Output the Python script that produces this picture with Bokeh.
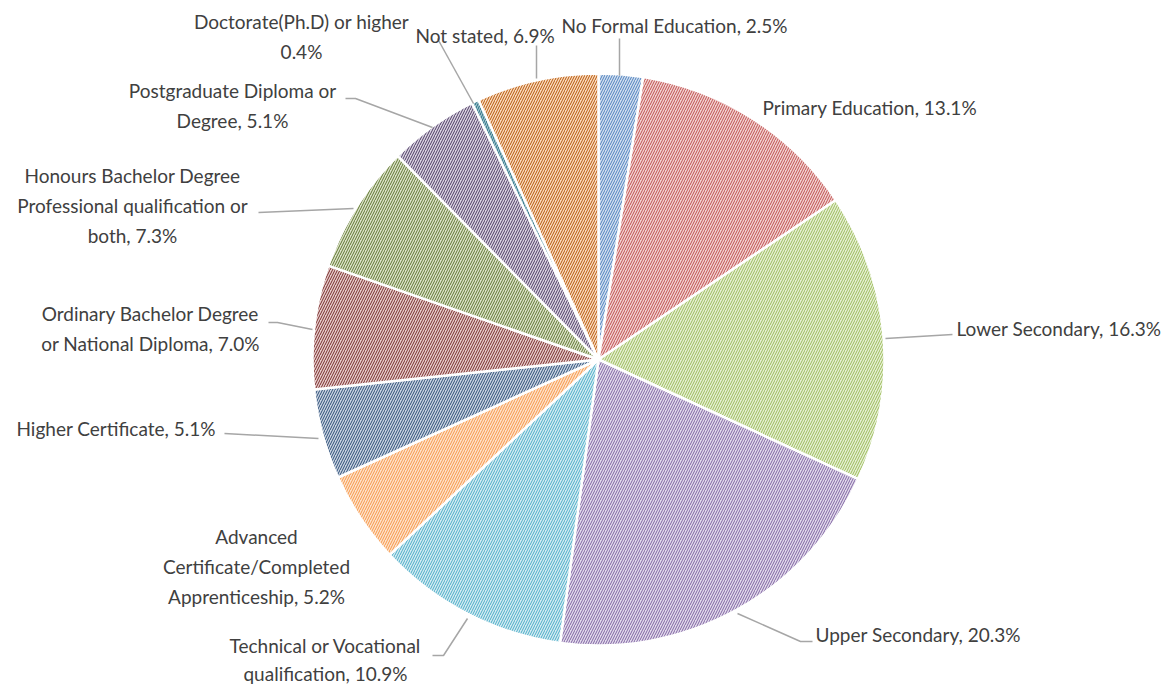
import math
from bokeh.plotting import figure
from bokeh.models import Range1d
from bokeh.core.properties import value
from bokeh.embed import file_html
from bokeh.resources import INLINE

# ---- data ----
categories = [
    "No Formal Education", "Primary Education", "Lower Secondary", "Upper Secondary",
    "Technical or Vocational qualification", "Advanced Certificate/Completed Apprenticeship",
    "Higher Certificate", "Ordinary Bachelor Degree or National Diploma",
    "Honours Bachelor Degree Professional qualification or both",
    "Postgraduate Diploma or Degree", "Doctorate(Ph.D) or higher", "Not stated",
]
percentages = [2.5, 13.1, 16.3, 20.3, 10.9, 5.2, 5.1, 7.0, 7.3, 5.1, 0.4, 6.9]
label_texts = [
    "No Formal Education, 2.5%", "Primary Education, 13.1%", "Lower Secondary, 16.3%",
    "Upper Secondary, 20.3%", "Technical or Vocational\nqualification, 10.9%",
    "Advanced\nCertificate/Completed\nApprenticeship, 5.2%", "Higher Certificate, 5.1%",
    "Ordinary Bachelor Degree\nor National Diploma, 7.0%",
    "Honours Bachelor Degree\nProfessional qualification or\nboth, 7.3%",
    "Postgraduate Diploma or\nDegree, 5.1%", "Doctorate(Ph.D) or higher\n0.4%",
    "Not stated, 6.9%",
]

# ---- styles ----
line_colors = ["#4F81BD", "#C0504D", "#9BBB59", "#8064A2", "#4BACC6", "#F79646",
               "#2C4D75", "#772C2A", "#5F7530", "#4D3B62", "#276A7C", "#B65708"]
fill_colors = ["#D3E0F0", "#F2D4D4", "#E7F0D6", "#E3DCEC", "#D5ECF3", "#FDE3CD",
               "#CBD5E3", "#E7CDCD", "#DDE4CB", "#DCD6E4", "#9CC4CF", "#FADCC2"]

W, H = 1171, 688
def X(px): return px
def Y(py): return H - py

p = figure(width=W, height=H, output_backend="svg", toolbar_location=None,
           x_range=Range1d(0, W), y_range=Range1d(0, H), min_border=0)
p.axis.visible = False
p.grid.visible = False
p.outline_line_color = None

cx, cy, r = X(598), Y(359), 286
total = sum(percentages)
cum = 0.0
starts, ends = [], []
for v in percentages:
    starts.append(math.pi / 2 - 2 * math.pi * cum / total)
    cum += v
    ends.append(math.pi / 2 - 2 * math.pi * cum / total)

p.wedge(x=[cx] * len(percentages), y=[cy] * len(percentages), radius=r,
        start_angle=starts, end_angle=ends, direction="clock",
        fill_color=fill_colors, line_color="white", line_width=2.5,
        hatch_pattern="/", hatch_color=line_colors, hatch_scale=5, hatch_weight=1.0)

# leader lines (image pixel coords)
leaders = [
    [(619, 75), (619, 38)],
    [(536, 78), (536, 45)],
    [(473, 103), (437, 38)],
    [(432, 127), (355, 98), (345, 98)],
    [(353, 208), (258, 212)],
    [(312, 329), (277, 322), (268, 322)],
    [(318, 438), (224, 433)],
    [(467, 618), (443, 655), (432, 655)],
    [(737, 613), (800, 641), (812, 641)],
    [(885, 338), (952, 334)],
]
p.multi_line(xs=[[X(a) for a, b in seg] for seg in leaders],
             ys=[[Y(b) for a, b in seg] for seg in leaders],
             line_color="#A6A6A6", line_width=1.5)

# label layout: (x, y-center, align, line spacing) in image pixels
label_pos = [
    (561, 25, "left", 25), (762, 107, "left", 25), (956, 328, "left", 25),
    (815, 634, "left", 25), (325, 659, "center", 23), (256, 566, "center", 25),
    (16, 428, "left", 25), (150, 328, "center", 25), (132, 205, "center", 25),
    (232, 105, "center", 25), (301, 36, "center", 25), (415, 35, "left", 25),
]
fs = 19
for txt, (lx, ly, al, ls) in zip(label_texts, label_pos):
    p.text(x=[X(lx)], y=[Y(ly)], text=[txt], text_align=al, text_baseline="middle",
           text_font=value("Lato"), text_font_size=f"{fs}px", text_color="#404040",
           text_line_height=ls / fs)

open("out.html", "w").write(file_html(p, INLINE))
